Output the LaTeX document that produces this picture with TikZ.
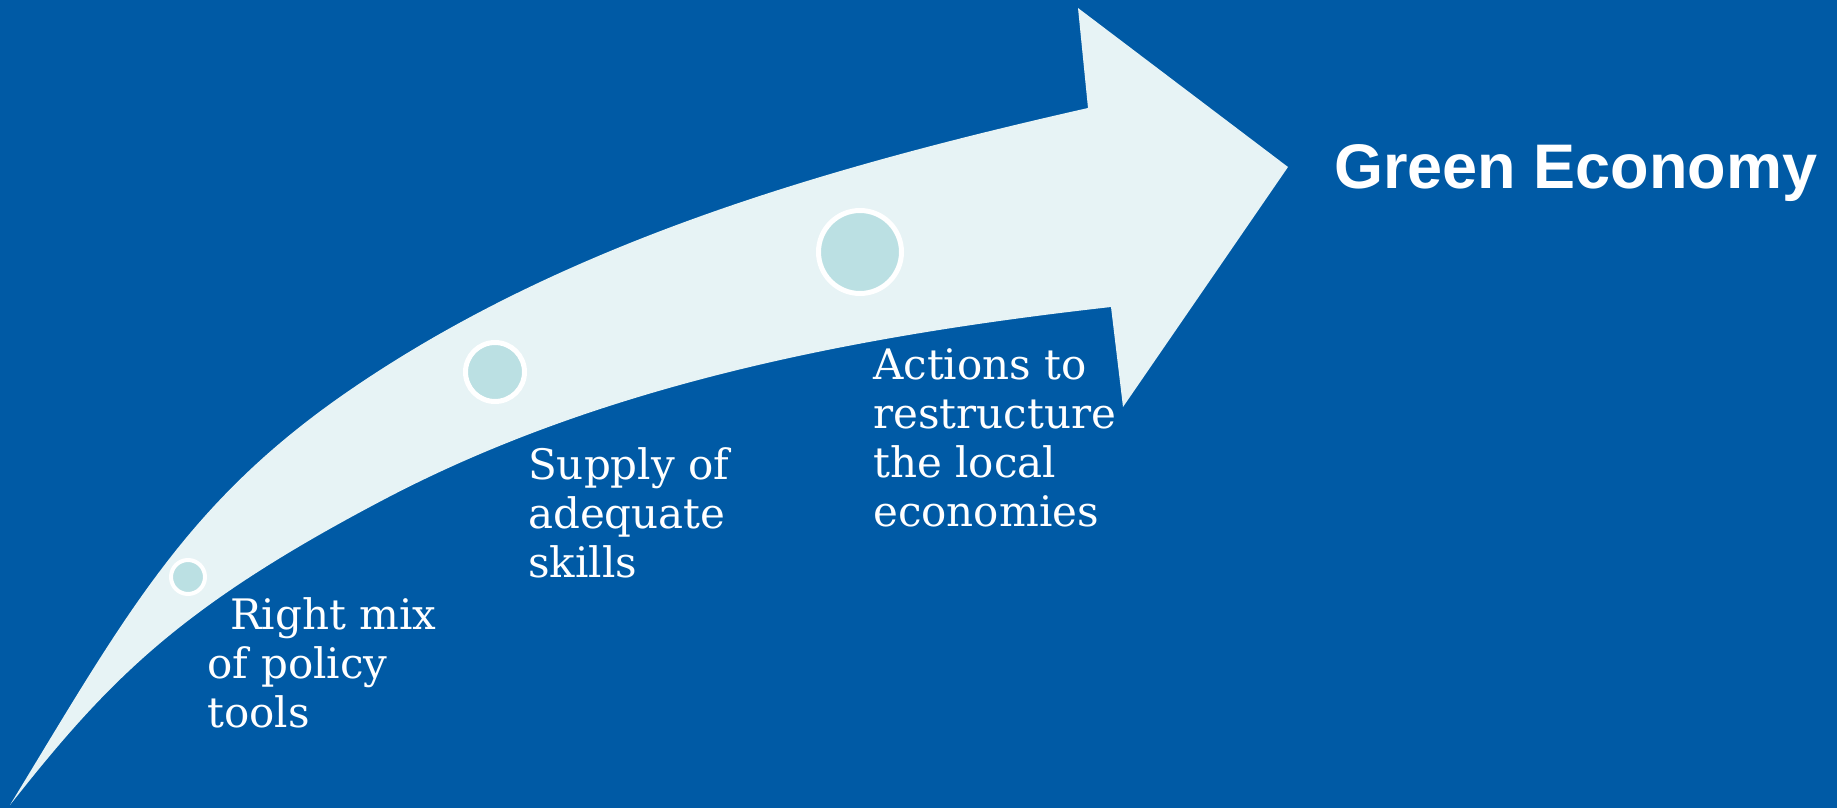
\documentclass[tikz,border=0pt]{standalone}
\usepackage{fontspec}
\setmainfont{DejaVu Serif}
\newfontfamily\headfont{Liberation Sans}
\definecolor{bgblue}{RGB}{0,90,165}
\definecolor{arrowfill}{RGB}{231,243,245}
\definecolor{dotfill}{RGB}{187,224,227}
\tikzset{
  dot/.style={circle, draw=white, fill=dotfill, inner sep=0pt},
  label/.style={anchor=base west, inner sep=0pt, align=left, text=white,
    font=\fontsize{42}{49}\selectfont},
  headline/.style={anchor=base west, inner sep=0pt, text=white,
    font=\headfont\bfseries\fontsize{63}{70}\selectfont}
}
\begin{document}
\begin{tikzpicture}[x=1pt,y=-1pt]
\fill[bgblue] (0,0) rectangle (1837,808);
\useasboundingbox (0,0) rectangle (1837,808);
% curved arrow
\fill[arrowfill]
  (10,805) .. controls (124,618) and (185,503) .. (350,390)
  .. controls (567,241) and (832,166) .. (1088,108)
  -- (1078,8) -- (1288,167) -- (1123,407) -- (1111,307)
  .. controls (862,335) and (605,383) .. (383,500)
  .. controls (179.5,607) and (109,679.4) .. (10,805)
  -- cycle;
% dots
\node[dot, line width=4pt, minimum size=34pt] (d1) at (188,577) {};
\node[dot, line width=5pt, minimum size=59pt] (d2) at (495,372) {};
\node[dot, line width=5pt, minimum size=83pt] (d3) at (860,252) {};
% labels (anchored at the baseline of the last line)
\node[label] (t1) at (207,727) {\hspace*{23pt}Right mix\\of policy\\tools};
\node[label] (t2) at (528,577) {Supply of\\adequate\\skills};
\node[label] (t3) at (873,526) {Actions to\\restructure\\the local\\economies};
\node[headline] (ge) at (1334,188) {Green Economy};
\end{tikzpicture}
\end{document}
